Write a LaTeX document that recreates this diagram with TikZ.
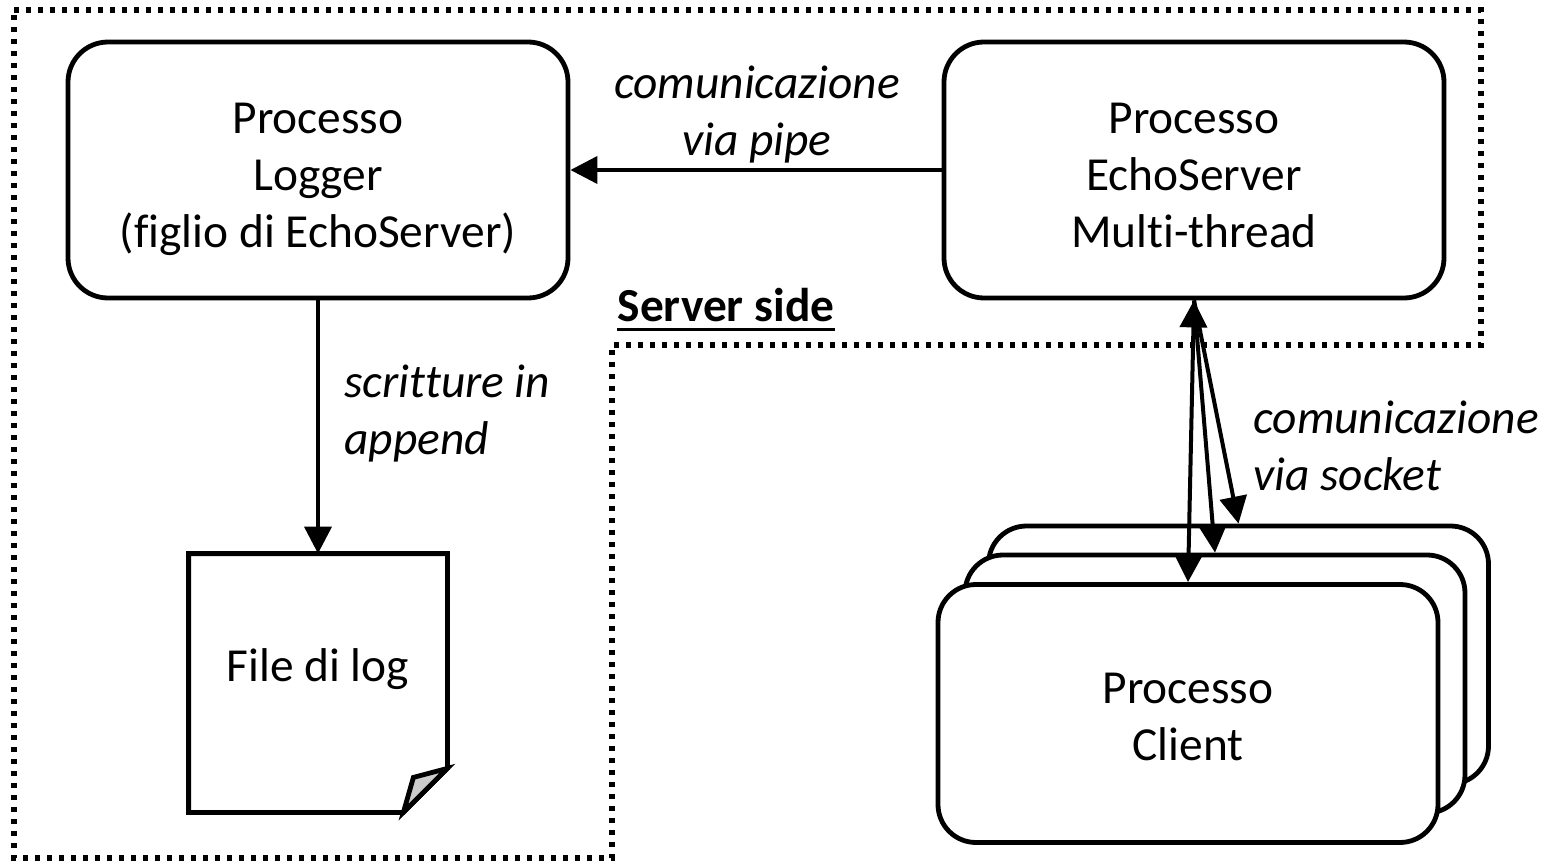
\documentclass[tikz,border=0pt]{standalone}
\usepackage{fontspec}
\setmainfont{Carlito}[Ligatures=NoCommon]
\usetikzlibrary{arrows.meta}

\newcommand{\boxfont}{\fontsize{23.7pt}{28.5pt}\selectfont}

\tikzset{
  procbox/.style={draw, line width=2.4pt, rounded corners=20pt, fill=white,
    minimum width=250pt, minimum height=128pt, inner sep=0pt},
  clientbox/.style={draw, line width=2.4pt, rounded corners=19pt, fill=white,
    minimum width=250pt, minimum height=129pt, inner sep=0pt},
  boxtext/.style={align=center, inner sep=0pt},
  flow/.style={line width=2pt, -{Triangle[length=13.5pt,width=13.5pt]}},
  biflow/.style={line width=2pt, {Triangle[length=13.5pt,width=13.5pt]}-{Triangle[length=13.5pt,width=13.5pt]}},
  note/.style={font=\boxfont\itshape, inner sep=0pt},
  region/.style={line width=2.6pt, dash pattern=on 2.6pt off 3.4pt},
}

\begin{document}
\begin{tikzpicture}[x=0.5pt, y=-0.5pt, font=\boxfont]
\useasboundingbox (0,0) rectangle (1554,867);

% server-side region
\draw[region] (14,10) -- (1481,10) -- (1481,345) -- (612,345)
  -- (612,858) -- (14,858) -- cycle;

% processes on the server side
\node[procbox] (logger) at (318,170) {};
\node[boxtext] (loggertext) at (318,179)
  {Processo\strut\\Logger\strut\\(figlio di EchoServer)\strut};
\node[procbox] (echo) at (1194,170) {};
\node[boxtext] (echotext) at (1194,179)
  {Processo\strut\\EchoServer\strut\\Multi-thread\strut};

% log file with folded corner
\node[minimum width=129pt, minimum height=129pt, inner sep=0pt] (file) at (318,683) {};
\draw[line width=2.4pt] (file.north west) -- (file.north east)
  -- ([yshift=22pt]file.south east) -- ([xshift=-22pt]file.south east)
  -- (file.south west) -- cycle;
\draw[line width=2.4pt, fill=black!20] ([yshift=22pt]file.south east)
  -- ([xshift=-17pt,yshift=17.5pt]file.south east)
  -- ([xshift=-22pt]file.south east) -- cycle;
\node[boxtext] (filetext) at (318,670) {File di log\strut};

% stack of client processes
\node[clientbox] (cback) at (1238.5,655) {};
\node[clientbox] (cmid) at (1215,684) {};
\node[clientbox] (cfront) at (1188,713.5) {};
\node[boxtext] (clienttext) at (1188,721) {Processo\strut\\Client\strut};

% connectors
\draw[flow] (echo.west) -- (logger.east);
\draw[flow] (logger.south) -- (file.north);
\draw[biflow] (echo.south) -- (cfront.north);
\draw[flow] (echo.south) -- (cmid.north);
\draw[flow] (echo.south) -- (cback.north);

% labels
\node[note, align=center] (lpipe) at (757,116) {comunicazione\strut\\via pipe\strut};
\node[note, align=left, anchor=west] (lappend) at (344,415) {scritture in\strut\\append\strut};
\node[note, align=left, anchor=west] (lsocket) at (1253,451) {comunicazione\strut\\via socket\strut};

\node[inner sep=0pt, font=\boxfont\bfseries] (sside) at (726,305) {Server side};
\draw[line width=1.3pt] ([yshift=-4pt]sside.base west) -- ([yshift=-4pt]sside.base east);
\end{tikzpicture}
\end{document}
